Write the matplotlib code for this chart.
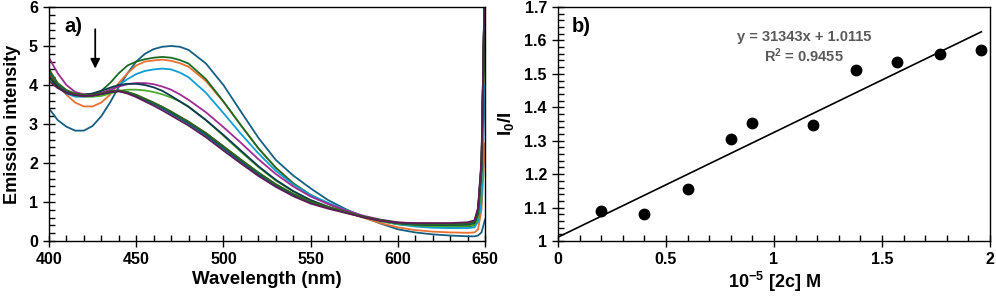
import numpy as np
import matplotlib
matplotlib.use("Agg")
import matplotlib.pyplot as plt
from matplotlib.ticker import MultipleLocator, FuncFormatter

plt.rcParams['font.family'] = ['Liberation Sans', 'DejaVu Sans']
plt.rcParams['font.weight'] = 'bold'
plt.rcParams['mathtext.fontset'] = 'custom'
plt.rcParams['mathtext.bf'] = 'Liberation Sans:bold'
plt.rcParams['mathtext.rm'] = 'Liberation Sans:bold'
plt.rcParams['mathtext.default'] = 'bf'

# ---- panel a) emission spectra ----
wl = [400, 405, 410, 415, 420, 425, 430, 435, 440, 445, 450, 455, 460, 465, 470,
      475, 480, 490, 500, 510, 520, 530, 540, 550, 560, 570, 580, 590, 600, 610,
      620, 630, 640, 644, 646, 648, 650]

spectra = {
    '#156082': [3.40, 3.10, 2.93, 2.83, 2.83, 2.95, 3.20, 3.55, 3.95, 4.30, 4.60, 4.80, 4.92, 4.98, 5.00,
                4.98, 4.90, 4.55, 4.00, 3.32, 2.65, 2.08, 1.68, 1.35, 1.05, 0.82, 0.62, 0.45, 0.30, 0.22,
                0.17, 0.14, 0.12, 0.12, 0.14, 0.22, 0.55],
    '#E97132': [4.40, 4.00, 3.75, 3.55, 3.45, 3.45, 3.55, 3.75, 4.05, 4.30, 4.50, 4.60, 4.63, 4.65, 4.62,
                4.56, 4.47, 4.10, 3.57, 2.97, 2.38, 1.88, 1.48, 1.18, 0.95, 0.77, 0.60, 0.46, 0.35, 0.28,
                0.24, 0.22, 0.21, 0.22, 0.30, 0.80, 2.50],
    '#196B24': [4.30, 4.00, 3.82, 3.75, 3.75, 3.78, 3.85, 4.05, 4.30, 4.50, 4.60, 4.66, 4.70, 4.72, 4.70,
                4.64, 4.55, 4.15, 3.58, 2.97, 2.38, 1.88, 1.48, 1.18, 0.96, 0.78, 0.63, 0.51, 0.43, 0.39,
                0.37, 0.36, 0.37, 0.40, 0.55, 1.30, 5.50],
    '#0F9ED5': [4.20, 3.95, 3.78, 3.70, 3.70, 3.72, 3.76, 3.85, 4.00, 4.15, 4.28, 4.36, 4.40, 4.42, 4.40,
                4.32, 4.20, 3.80, 3.28, 2.75, 2.25, 1.80, 1.45, 1.18, 0.98, 0.80, 0.64, 0.52, 0.43, 0.37,
                0.34, 0.33, 0.33, 0.35, 0.50, 1.00, 4.00],
    '#A02B93': [4.70, 4.30, 4.00, 3.82, 3.76, 3.76, 3.80, 3.88, 3.96, 4.02, 4.05, 4.05, 4.02, 3.96, 3.88,
                3.76, 3.62, 3.30, 2.92, 2.52, 2.10, 1.72, 1.40, 1.14, 0.95, 0.79, 0.65, 0.55, 0.48, 0.45,
                0.44, 0.44, 0.46, 0.50, 0.80, 2.00, 7.00],
    '#4EA72E': [4.30, 4.00, 3.85, 3.74, 3.70, 3.70, 3.72, 3.78, 3.85, 3.88, 3.88, 3.86, 3.82, 3.76, 3.68,
                3.58, 3.45, 3.10, 2.70, 2.29, 1.90, 1.55, 1.27, 1.04, 0.87, 0.73, 0.61, 0.51, 0.44, 0.40,
                0.38, 0.38, 0.39, 0.42, 0.60, 1.50, 6.50],
    '#0D3A4E': [4.20, 3.95, 3.80, 3.75, 3.75, 3.78, 3.85, 3.93, 4.00, 4.03, 4.03, 4.00, 3.94, 3.85, 3.72,
                3.58, 3.44, 3.10, 2.72, 2.32, 1.92, 1.57, 1.28, 1.05, 0.88, 0.74, 0.62, 0.53, 0.46, 0.44,
                0.44, 0.44, 0.46, 0.50, 0.80, 2.00, 7.00],
    '#8C3F14': [4.25, 3.98, 3.83, 3.75, 3.72, 3.73, 3.77, 3.82, 3.85, 3.81, 3.74, 3.64, 3.54, 3.43, 3.31,
                3.18, 3.05, 2.76, 2.42, 2.08, 1.75, 1.45, 1.20, 1.00, 0.86, 0.74, 0.62, 0.53, 0.46, 0.43,
                0.42, 0.42, 0.44, 0.48, 0.75, 1.90, 7.00],
    '#0F4016': [4.20, 3.95, 3.80, 3.74, 3.72, 3.73, 3.77, 3.81, 3.84, 3.80, 3.72, 3.62, 3.52, 3.41, 3.29,
                3.16, 3.03, 2.74, 2.40, 2.06, 1.73, 1.44, 1.19, 1.00, 0.86, 0.74, 0.62, 0.53, 0.46, 0.42,
                0.41, 0.41, 0.42, 0.46, 0.70, 1.80, 7.00],
    '#095E80': [4.35, 4.02, 3.85, 3.76, 3.73, 3.74, 3.78, 3.83, 3.86, 3.81, 3.73, 3.63, 3.52, 3.40, 3.27,
                3.14, 3.01, 2.71, 2.37, 2.03, 1.71, 1.42, 1.18, 0.99, 0.85, 0.74, 0.62, 0.53, 0.46, 0.43,
                0.42, 0.42, 0.44, 0.48, 0.75, 1.90, 7.00],
    '#2E641C': [4.40, 4.05, 3.87, 3.78, 3.74, 3.75, 3.79, 3.84, 3.86, 3.82, 3.75, 3.65, 3.55, 3.44, 3.32,
                3.19, 3.06, 2.77, 2.43, 2.09, 1.76, 1.46, 1.21, 1.01, 0.87, 0.75, 0.63, 0.54, 0.47, 0.44,
                0.43, 0.43, 0.45, 0.49, 0.78, 1.95, 7.00],
    '#601A58': [4.10, 3.92, 3.80, 3.74, 3.72, 3.73, 3.77, 3.82, 3.84, 3.78, 3.69, 3.58, 3.47, 3.35, 3.22,
                3.09, 2.96, 2.66, 2.32, 1.99, 1.67, 1.39, 1.15, 0.96, 0.83, 0.72, 0.61, 0.52, 0.47, 0.46,
                0.46, 0.46, 0.48, 0.53, 0.85, 2.10, 7.00],
}

# ---- panel b) Stern-Volmer ----
conc = [0.20, 0.40, 0.60, 0.80, 0.90, 1.18, 1.38, 1.57, 1.77, 1.96]
ratio = [1.090, 1.082, 1.157, 1.305, 1.354, 1.346, 1.513, 1.536, 1.558, 1.571]
slope, intercept, r2 = 31343, 1.0115, 0.9455

fig = plt.figure(figsize=(9.96, 2.97), dpi=100)
ax1 = fig.add_axes([49/996, 56/297, 436/996, 234/297])
ax2 = fig.add_axes([558/996, 56/297, 432/996, 234/297])

for color, vals in spectra.items():
    ax1.plot(wl, vals, color=color, lw=1.3)

ax1.set_xlim(400, 650)
ax1.set_ylim(0, 6)
ax1.xaxis.set_major_locator(MultipleLocator(50))
ax1.xaxis.set_minor_locator(MultipleLocator(10))
ax1.yaxis.set_major_locator(MultipleLocator(1))
ax1.yaxis.set_minor_locator(MultipleLocator(0.2))
ax1.set_xlabel('Wavelength (nm)', fontsize=13.5, fontweight='bold', labelpad=3)
ax1.set_ylabel('Emission intensity', fontsize=13, fontweight='bold', labelpad=6)
ax1.text(0.035, 0.915, 'a)', transform=ax1.transAxes, fontsize=14.5, fontweight='bold', va='center')
ax1.annotate('', xy=(426.5, 4.35), xytext=(426.5, 5.5),
             arrowprops=dict(arrowstyle='-|>', color='black', lw=1.3, mutation_scale=14))

xs = np.array([0, conc[-1]])
ax2.plot(xs, slope * 1e-5 * xs + intercept, color='black', lw=1.2)
ax2.plot(conc, ratio, 'o', color='black', ms=7.5)
ax2.set_xlim(0, 2)
ax2.set_ylim(1, 1.7)
ax2.xaxis.set_major_locator(MultipleLocator(0.5))
ax2.xaxis.set_minor_locator(MultipleLocator(0.1))
ax2.yaxis.set_major_locator(MultipleLocator(0.1))
ax2.yaxis.set_minor_locator(MultipleLocator(0.02))
ax2.xaxis.set_major_formatter(FuncFormatter(lambda v, p: f'{v:g}'))
ax2.yaxis.set_major_formatter(FuncFormatter(lambda v, p: f'{round(v, 2):g}'))
ax2.set_xlabel('10$^{-5}$ [2c] M', fontsize=13, fontweight='bold', labelpad=2)
ax2.set_ylabel('I$_0$/I', fontsize=13.5, fontweight='bold', labelpad=6)
ax2.text(0.032, 0.915, 'b)', transform=ax2.transAxes, fontsize=14.5, fontweight='bold', va='center')
ax2.text(1.14, 1.611, f'y = {slope}x + {intercept}', color='#595959', fontsize=10.5,
         fontweight='bold', ha='center', va='center')
ax2.text(1.14, 1.553, f'R$^2$ = {r2}', color='#595959', fontsize=10.5,
         fontweight='bold', ha='center', va='center')

for ax in (ax1, ax2):
    ax.tick_params(which='major', direction='inout', length=8, width=1, labelsize=11.5, pad=4)
    ax.tick_params(which='minor', direction='in', length=4, width=1)
    for s in ax.spines.values():
        s.set_linewidth(1)
    for lab in ax.get_xticklabels() + ax.get_yticklabels():
        lab.set_fontweight('bold')

fig.savefig('out.png', dpi=100)
